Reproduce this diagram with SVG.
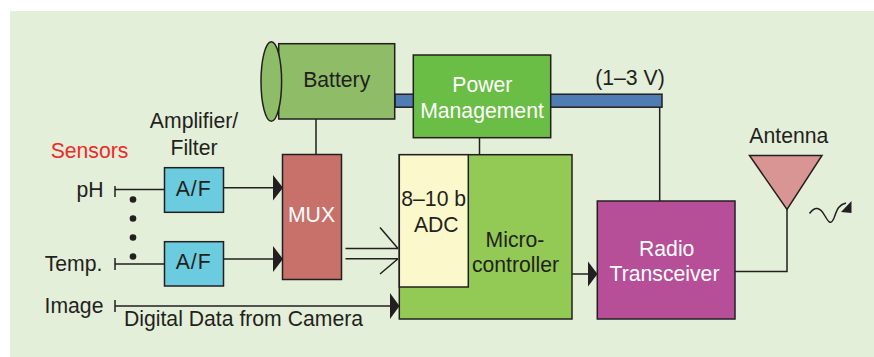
<svg xmlns="http://www.w3.org/2000/svg" width="874" height="357" viewBox="0 0 874 357">
<style>
text{font-family:"Liberation Sans",Arial,sans-serif;font-size:21.2px;fill:#231f20;text-anchor:middle}
.w{fill:#fff}
.box{stroke:#231f20;stroke-width:1.5}
.ln{fill:none;stroke:#231f20;stroke-width:1.5}
.h{fill:#231f20}
</style>
<rect width="874" height="357" fill="#fff"/>
<rect x="10" y="11" width="864" height="346" fill="#e3efd8"/>
<g id="connectors">
<path class="ln" d="M115 186V197M115 189.500H165"/>
<path class="ln" d="M115 258V270M115 264H165"/>
<path class="ln" d="M115 300V312M115 306H391"/>
<path class="ln" d="M223.500 187.700H274"/>
<path class="h" d="M273 175L283 187.700L273 200.500Z"/>
<path class="ln" d="M223.500 259H274"/>
<path class="h" d="M273 246L283 259L273 272Z"/>
<path class="h" d="M390 293L399.500 306L390 319Z"/>
<path class="ln" d="M316 119V155"/>
<path class="ln" d="M479.500 137V155"/>
<path class="ln" d="M345.500 248.500H398M380 227.500L398 248.500"/>
<path class="ln" d="M345.500 258.700H398M380 274L398 258.700"/>
<path class="ln" d="M572 274H589"/>
<path class="h" d="M588 261.500L597.500 274L588 286.500Z"/>
<path class="ln" d="M659.700 107V201"/>
<path class="ln" d="M735 271.500H787V209"/>
</g>
<circle cx="133" cy="199.500" r="3.300" class="h"/><circle cx="133" cy="218.500" r="3.300" class="h"/><circle cx="133" cy="237.500" r="3.300" class="h"/><circle cx="133" cy="256.500" r="3.300" class="h"/>
<text x="89.500" y="157.500" style="fill:#ed2a2a">Sensors</text>
<text x="90" y="197">pH</text>
<text x="73.500" y="270.500">Temp.</text>
<text x="74" y="312.500">Image</text>
<text x="194" y="128">Amplifier/</text>
<text x="194" y="155">Filter</text>
<text x="243.500" y="326">Digital Data from Camera</text>
<g id="bar"><rect x="395" y="94.200" width="267" height="13" fill="#4f7cb3" class="box"/></g>
<g id="battery">
<rect x="278.700" y="43.700" width="116" height="75.300" fill="#8fbc66" class="box"/>
<ellipse cx="271.300" cy="81.500" rx="10.300" ry="39.800" fill="#8fbc66" class="box"/>
<text x="336.700" y="87.300">Battery</text>
</g>
<g id="power">
<rect x="413.300" y="55" width="137.400" height="82.700" fill="#6abd45" class="box"/>
<text x="482.300" y="92" class="w">Power</text>
<text x="482" y="117.700" class="w">Management</text>
</g>
<g id="af1"><rect x="164.500" y="167.700" width="59" height="44.600" fill="#6bccdf" class="box"/><text x="193.700" y="196" style="letter-spacing:1px">A/F</text></g>
<g id="af2"><rect x="164.500" y="241.700" width="59" height="44.300" fill="#6bccdf" class="box"/><text x="193.700" y="269.300" style="letter-spacing:1px">A/F</text></g>
<g id="mux"><rect x="282.500" y="154.500" width="59" height="125" fill="#c8706a" class="box"/><text x="311.500" y="222" class="w">MUX</text></g>
<g id="microcontroller">
<rect x="399.300" y="154.700" width="172.700" height="164.300" fill="#93c955" class="box"/>
<text x="515" y="247">Micro-</text>
<text x="515.500" y="272">controller</text>
</g>
<g id="adc">
<rect x="399.300" y="154.700" width="69" height="132.300" fill="#fbf8cc" class="box"/>
<text x="433.700" y="206">8–10 b</text>
<text x="436.300" y="232">ADC</text>
</g>
<g id="radio">
<rect x="597.300" y="201" width="137.700" height="118" fill="#b64f98" class="box"/>
<text x="666.700" y="255.700" class="w">Radio</text>
<text x="664.500" y="280.700" class="w">Transceiver</text>
</g>
<g id="antenna">
<path d="M749.500 155.500H822L787 209.500Z" fill="#d99593" class="box"/>
<text x="788.800" y="143">Antenna</text>
<path class="ln" d="M809.500 213.500C815 206 820 207 825 216C829 223 831 225 834 218C837 210 838 205 846 203"/>
<path class="h" d="M851.500 201V213L841 212Z"/>
</g>
<text x="630" y="85">(1–3 V)</text>
</svg>
